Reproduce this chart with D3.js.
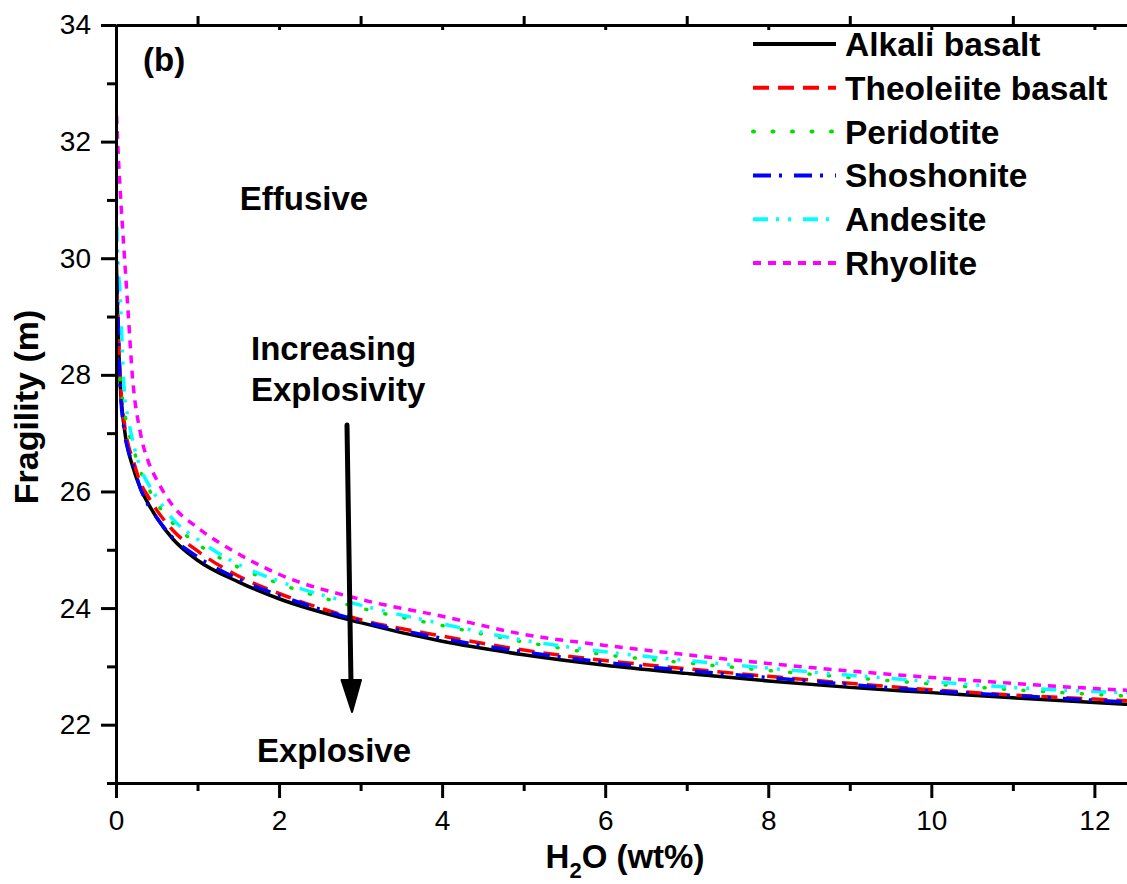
<!DOCTYPE html>
<html>
<head>
<meta charset="utf-8">
<script src="https://cdn.jsdelivr.net/npm/d3@7"></script>
<style>
  html, body { margin: 0; padding: 0; background: #fff; }
  svg { display: block; }
  text { font-family: Arial, "Liberation Sans", sans-serif; }
</style>
</head>
<body>
<svg id="chart" width="1127" height="884"></svg>
<script>
// ---------------- data ----------------
const h2o = [0, 0.02, 0.05, 0.1, 0.15, 0.2, 0.3, 0.4, 0.5, 0.7, 1.0, 1.5, 2, 3, 4, 5, 6, 7, 8, 9, 10, 11, 12, 12.4];

const alkaliBasalt     = [30.2, 29.0, 27.9, 27.1, 26.7, 26.45, 26.05, 25.78, 25.55, 25.18, 24.82, 24.45, 24.16, 23.75, 23.43, 23.2, 23.02, 22.88, 22.75, 22.64, 22.55, 22.46, 22.38, 22.35];
const theoleiiteBasalt = [29.9, 29.1, 28.0, 27.2, 26.8, 26.58, 26.15, 25.9, 25.68, 25.33, 24.98, 24.55, 24.25, 23.8, 23.52, 23.28, 23.1, 22.96, 22.83, 22.71, 22.6, 22.51, 22.44, 22.41];
const peridotite       = [28.6, 28.3, 27.9, 27.4, 27.05, 26.8, 26.35, 26.05, 25.8, 25.45, 25.1, 24.7, 24.42, 24.0, 23.7, 23.42, 23.2, 23.06, 22.93, 22.81, 22.7, 22.6, 22.52, 22.49];
const shoshonite       = [30.4, 29.2, 27.85, 27.05, 26.7, 26.5, 26.05, 25.75, 25.55, 25.2, 24.88, 24.5, 24.22, 23.78, 23.48, 23.25, 23.07, 22.93, 22.81, 22.69, 22.58, 22.5, 22.42, 22.39];
const andesite         = [31.4, 30.1, 29.4, 27.75, 27.25, 26.9, 26.4, 26.12, 25.9, 25.52, 25.18, 24.75, 24.46, 24.05, 23.73, 23.45, 23.25, 23.1, 22.97, 22.85, 22.74, 22.64, 22.57, 22.55];
const rhyolite         = [32.7, 32.0, 31.2, 30.1, 29.05, 28.0, 27.0, 26.5, 26.2, 25.75, 25.38, 24.93, 24.58, 24.15, 23.86, 23.55, 23.36, 23.2, 23.05, 22.92, 22.81, 22.71, 22.62, 22.59];

const seriesNames  = ["Alkali basalt", "Theoleiite basalt", "Peridotite", "Shoshonite", "Andesite", "Rhyolite"];
const seriesValues = [alkaliBasalt, theoleiiteBasalt, peridotite, shoshonite, andesite, rhyolite];
const seriesColors = ["#000000", "#ff0000", "#00e000", "#0000ff", "#00ffff", "#ff00ff"];
const seriesDashes = [null, "16,9", "1,18.5", "18,8,3,12", "15,8,3,9,3,12", "8,7"];
const seriesCaps   = ["butt", "butt", "round", "butt", "butt", "butt"];

const xMajorTicks = [0, 2, 4, 6, 8, 10, 12];
const xMinorTicks = [1, 3, 5, 7, 9, 11];
const yMajorTicks = [22, 24, 26, 28, 30, 32, 34];
const yMinorTicks = [21, 23, 25, 27, 29, 31, 33];

// ---------------- layout ----------------
const svg = d3.select("#chart");
const plot = { left: 116, right: 1127, top: 25, bottom: 783 };

const x = d3.scaleLinear().domain([0, 12.4]).range([plot.left, plot.right]);
const y = d3.scaleLinear().domain([21, 34]).range([plot.bottom, plot.top]);

svg.append("defs").append("clipPath").attr("id", "clip")
  .append("rect")
  .attr("x", plot.left).attr("y", plot.top - 2)
  .attr("width", plot.right - plot.left).attr("height", plot.bottom - plot.top + 2);

// ---------------- curves ----------------
const line = d3.line()
  .x(d => x(d[0]))
  .y(d => y(d[1]))
  .curve(d3.curveMonotoneX);

const curves = svg.append("g").attr("clip-path", "url(#clip)");
const order = [0, 1, 2, 4, 5, 3];
order.forEach(i => {
  const pts = h2o.map((v, k) => [v, seriesValues[i][k]]);
  curves.append("path")
    .attr("d", line(pts))
    .attr("fill", "none")
    .attr("stroke", seriesColors[i])
    .attr("stroke-width", 3.5)
    .attr("stroke-linecap", seriesCaps[i])
    .attr("stroke-dasharray", seriesDashes[i]);
});

// ---------------- axes ----------------
function styleAxis(g) {
  g.select(".domain").attr("stroke", "#000").attr("stroke-width", 3);
  g.selectAll(".tick line").attr("stroke", "#000").attr("stroke-width", 3);
  g.selectAll(".tick text")
    .attr("fill", "#000")
    .style("font-size", "28px")
    .style("font-family", "Arial, 'Liberation Sans', sans-serif");
}

// left
svg.append("g").attr("transform", `translate(${plot.left},0)`)
  .call(d3.axisLeft(y).tickValues(yMinorTicks).tickSize(9).tickFormat("").tickSizeOuter(0))
  .call(styleAxis);
svg.append("g").attr("transform", `translate(${plot.left},0)`)
  .call(d3.axisLeft(y).tickValues(yMajorTicks).tickSize(15).tickPadding(10).tickFormat(d3.format("d")).tickSizeOuter(0))
  .call(styleAxis);

// bottom
svg.append("g").attr("transform", `translate(0,${plot.bottom})`)
  .call(d3.axisBottom(x).tickValues(xMinorTicks).tickSize(8).tickFormat("").tickSizeOuter(0))
  .call(styleAxis);
svg.append("g").attr("transform", `translate(0,${plot.bottom})`)
  .call(d3.axisBottom(x).tickValues(xMajorTicks).tickSize(15).tickPadding(12).tickFormat(d3.format("d")).tickSizeOuter(0))
  .call(styleAxis);

// top
svg.append("g").attr("transform", `translate(0,${plot.top})`)
  .call(d3.axisTop(x).tickValues(xMinorTicks).tickSize(9).tickFormat("").tickSizeOuter(0))
  .call(styleAxis);
svg.append("g").attr("transform", `translate(0,${plot.top})`)
  .call(d3.axisBottom(x).tickValues(xMajorTicks).tickSize(5).tickFormat("").tickSizeOuter(0))
  .call(g => { styleAxis(g); g.select(".domain").remove(); });

// axis titles
svg.append("text")
  .attr("transform", `translate(38,${(plot.top + plot.bottom) / 2 + 3}) rotate(-90)`)
  .attr("text-anchor", "middle")
  .style("font-size", "34px").style("font-weight", "bold")
  .text("Fragility (m)");

const xt = svg.append("text")
  .attr("x", 625).attr("y", 868)
  .attr("text-anchor", "middle")
  .style("font-size", "33px").style("font-weight", "bold");
xt.append("tspan").text("H");
xt.append("tspan").attr("dy", 10).style("font-size", "22px").text("2");
xt.append("tspan").attr("dy", -10).text("O (wt%)");

// ---------------- annotations ----------------
function label(txt, xx, yy, anchor) {
  svg.append("text").attr("x", xx).attr("y", yy)
    .attr("text-anchor", anchor || "start")
    .style("font-size", "33px").style("font-weight", "bold")
    .text(txt);
}
label("(b)", 143, 71);
label("Effusive", 304, 210, "middle");
label("Increasing", 251, 360);
label("Explosivity", 251, 401);
label("Explosive", 334, 762, "middle");

// arrow
svg.append("line")
  .attr("x1", 347).attr("y1", 425).attr("x2", 351).attr("y2", 684)
  .attr("stroke", "#000").attr("stroke-width", 5).attr("stroke-linecap", "round");
svg.append("path")
  .attr("d", "M341.5,680 L361,680 L352,712 Z")
  .attr("fill", "#000").attr("stroke", "#000").attr("stroke-width", 2).attr("stroke-linejoin", "round");

// ---------------- legend ----------------
const legend = svg.append("g");
seriesNames.forEach((name, i) => {
  const base = 56 + i * 43.8;
  legend.append("line")
    .attr("x1", 753).attr("x2", 836)
    .attr("y1", base - 12).attr("y2", base - 12)
    .attr("stroke", seriesColors[i])
    .attr("stroke-width", 4)
    .attr("stroke-linecap", seriesCaps[i])
    .attr("stroke-dasharray", seriesDashes[i]);
  legend.append("text")
    .attr("x", 845).attr("y", base)
    .style("font-size", "33.5px").style("font-weight", "bold")
    .text(name);
});
</script>
</body>
</html>
